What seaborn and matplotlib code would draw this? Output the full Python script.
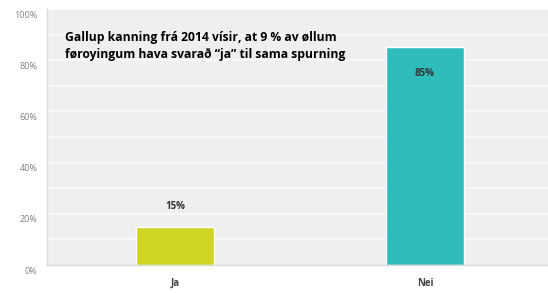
import pandas as pd
import matplotlib.pyplot as plt
import matplotlib.transforms as mtransforms
import seaborn as sns

# data
answers = ["Ja", "Nei"]
shares = [15, 85]
bar_colors = ["#cfd425", "#31bcbc"]
y_ticks = [0, 20, 40, 60, 80, 100]
note = "Gallup kanning frá 2014 vísir, at 9 % av øllum\nføroyingum hava svarað \u201cja\u201d til sama spurning"

df = pd.DataFrame({"svar": answers, "prosent": shares})

sns.set_style("white")
plt.rcParams["font.family"] = ["Open Sans", "DejaVu Sans"]

fig = plt.figure(figsize=(5.48, 2.93), dpi=100)
ax = fig.add_axes([47 / 548, 28 / 293, 501 / 548, 256 / 293])
ax.set_facecolor("#efefef")

# faint white gridlines every 10 %
for v in range(10, 101, 10):
    ax.axhline(v, color="#f9f9f9", lw=1.3, zorder=0)

sns.barplot(data=df, x="svar", y="prosent", hue="svar", palette=bar_colors,
            width=0.31, legend=False, ax=ax, zorder=2, saturation=1)

ax.set_xlim(-0.512, 1.492)
ax.set_ylim(0, 100)
ax.set_yticks(y_ticks)
ax.set_yticklabels([f"{t}%" for t in y_ticks], fontsize=6.5, color="#808080")
ax.tick_params(axis="y", length=0, pad=7)
ax.tick_params(axis="x", length=0, pad=9)
# y labels sit a little below their gridlines in the original
shift = mtransforms.ScaledTranslation(0, -5 / 100, fig.dpi_scale_trans)
for lab in ax.get_yticklabels():
    lab.set_transform(lab.get_transform() + shift)
for lab in ax.get_xticklabels():
    lab.set_fontweight("bold")
    lab.set_fontsize(7)
    lab.set_color("#444444")
ax.set_xlabel("")
ax.set_ylabel("")

for s in ["top", "right"]:
    ax.spines[s].set_visible(False)
for s in ["left", "bottom"]:
    ax.spines[s].set_color("#dadada")
    ax.spines[s].set_linewidth(1)

# value labels
ax.text(0, shares[0] + 8, f"{shares[0]}%", ha="center", va="center",
        fontsize=7, fontweight="bold", color="#333333")
ax.text(1, shares[1] - 10, f"{shares[1]}%", ha="center", va="center",
        fontsize=7, fontweight="bold", color="#333333")

fig.text(65 / 548, 1 - 46 / 293, note, ha="left", va="center",
         fontsize=8.7, fontweight="bold", color="black", linespacing=1.3)

fig.savefig("out.png", dpi=100)
